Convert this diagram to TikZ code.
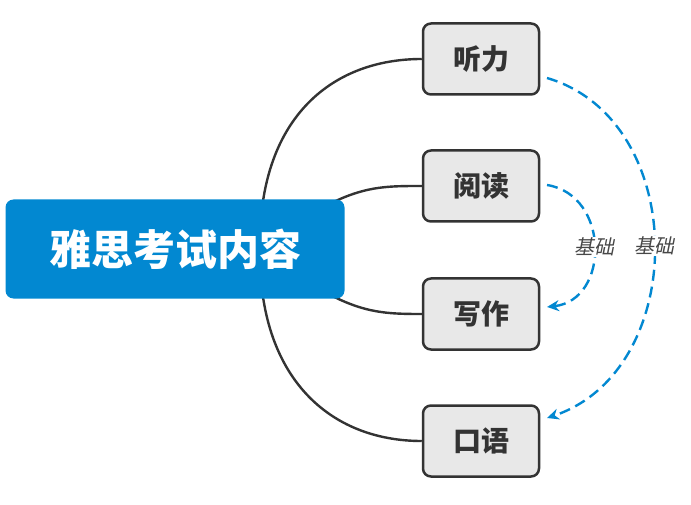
\documentclass[tikz,border=0pt]{standalone}
\usepackage{fontspec}
\usepackage{xcolor}
\usepackage{tikz}
\usetikzlibrary{arrows.meta,backgrounds}
\newfontfamily\cjk{Noto Sans CJK SC}
\newfontfamily\cjkslant[FakeSlant=0.2]{Noto Sans CJK SC}
\definecolor{topic-blue}{RGB}{2,136,209}
\definecolor{box-gray}{RGB}{232,232,232}
\definecolor{line-gray}{RGB}{51,51,51}

\begin{document}
\begin{tikzpicture}[x=1pt, y=-1pt,
    topic/.style={rounded corners=8pt, fill=topic-blue, text=white,
      minimum width=339pt, minimum height=99pt, inner sep=0pt,
      font=\cjk\bfseries\fontsize{42}{42}\selectfont},
    subtopic/.style={rounded corners=8pt, draw=line-gray, line width=2.5pt,
      fill=box-gray, text=line-gray, minimum width=116pt, minimum height=71pt,
      inner sep=0pt, font=\cjk\bfseries\fontsize{28}{28}\selectfont},
    branch/.style={line-gray, line width=2.4pt},
    relation/.style={topic-blue, line width=2.4pt, dash pattern=on 11pt off 6pt,
      -{Stealth[length=12pt, width=11pt]}},
    relabel/.style={fill=white, text=line-gray!90, inner sep=1pt,
      font=\cjkslant\fontsize{20}{20}\selectfont}]
  \useasboundingbox (0,0) rectangle (691,505);

  % main topic and subtopics
  \node[topic] (ielts) at (175,249) {雅思考试内容};
  \node[subtopic] (listen) at (481,59) {听力};
  \node[subtopic] (read) at (481,186) {阅读};
  \node[subtopic] (write) at (481,314) {写作};
  \node[subtopic] (speak) at (481,441) {口语};

  % branches, behind the main topic
  \coordinate (hub) at (260,249);
  \begin{scope}[on background layer]
    \draw[branch] (hub) .. controls (258,120) and (330,59) .. (listen.west);
    \draw[branch] (hub) .. controls (345,186) and (370,186) .. (read.west);
    \draw[branch] (hub) .. controls (345,312) and (370,314) .. (write.west);
    \draw[branch] (hub) .. controls (258,378) and (330,441) .. (speak.west);
  \end{scope}

  % relations
  \coordinate (r1a) at (547,78);
  \coordinate (r1b) at (547,418);
  \draw[relation] (r1a) .. controls (690,120) and (690,370) .. (r1b)
    node[pos=0.5, relabel] (base1) {基础};
  \coordinate (r2a) at (547,185);
  \coordinate (r2b) at (547,307);
  \draw[relation] (r2a) .. controls (610,195) and (610,300) .. (r2b)
    node[pos=0.5, relabel] (base2) {基础};
\end{tikzpicture}
\end{document}
